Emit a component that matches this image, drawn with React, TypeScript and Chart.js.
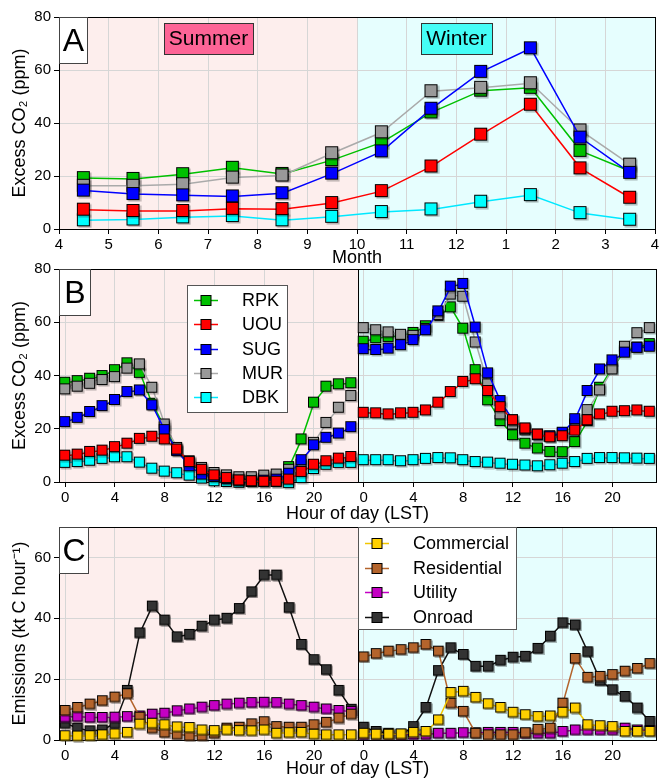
import React, { useEffect, useRef } from 'react';
import { Chart, registerables } from 'chart.js';

Chart.register(...registerables);

const FONT = "'Liberation Sans', Arial, Helvetica, sans-serif";

// ---------------- DATA ----------------
const monthPositions = [4.5, 5.5, 6.5, 7.5, 8.5, 9.5, 10.5, 11.5, 12.5, 13.5, 14.5, 15.5];
const monthTickValues = [4, 5, 6, 7, 8, 9, 10, 11, 12, 13, 14, 15, 16];
const monthTickLabels = ['4', '5', '6', '7', '8', '9', '10', '11', '12', '1', '2', '3', '4'];

const rpkMonthly = [19.2, 18.9, 20.7, 23.1, 20.8, 26.0, 32.7, 44.0, 52.2, 53.3, 29.5, 21.8];
const uouMonthly = [7.3, 6.8, 6.8, 7.6, 7.5, 9.8, 14.3, 23.6, 35.6, 46.9, 22.9, 11.8];
const sugMonthly = [14.5, 13.2, 12.7, 12.3, 13.5, 20.9, 29.3, 45.4, 59.3, 68.2, 34.5, 21.2];
const murMonthly = [16.3, 16.3, 16.9, 19.4, 20.2, 28.6, 36.5, 52.0, 53.3, 55.0, 37.2, 24.3];
const dbkMonthly = [3.3, 3.6, 4.4, 4.9, 3.3, 4.6, 6.4, 7.4, 10.3, 12.8, 6.0, 3.5];

const hours = [0, 1, 2, 3, 4, 5, 6, 7, 8, 9, 10, 11, 12, 13, 14, 15, 16, 17, 18, 19, 20, 21, 22, 23];
const hourTickValues = [0, 4, 8, 12, 16, 20];
const hourTickLabels = ['0', '4', '8', '12', '16', '20'];
const co2TickValues = [0, 20, 40, 60, 80];
const emissionTickValues = [0, 20, 40, 60];

const rpkSummer = [37.3, 37.9, 38.8, 39.8, 42.0, 44.6, 41.0, 29.4, 20.5, 12.0, 7.0, 4.0, 2.2, 1.3, 0.8, 0.8, 1.2, 1.8, 5.6, 16.0, 29.8, 35.8, 36.7, 37.1];
const uouSummer = [9.9, 10.3, 11.3, 11.8, 13.1, 14.4, 16.2, 17.0, 16.0, 12.2, 7.5, 4.6, 2.5, 1.5, 0.6, 0.3, 0.1, 0.1, 0.9, 3.8, 6.5, 7.8, 8.8, 9.4];
const sugSummer = [22.5, 24.1, 26.3, 28.5, 30.8, 33.8, 34.4, 28.8, 19.5, 11.6, 5.9, 2.8, 1.9, 1.1, 0.5, 0.2, 0.5, 0.9, 3.1, 8.2, 13.8, 16.6, 18.2, 20.6];
const murSummer = [34.8, 35.8, 36.9, 38.3, 39.4, 42.6, 44.2, 35.4, 21.6, 12.8, 7.8, 5.3, 3.4, 2.5, 1.8, 1.8, 2.4, 2.8, 4.6, 6.5, 14.7, 22.2, 27.9, 32.3];
const dbkSummer = [7.2, 7.5, 8.0, 8.7, 9.3, 9.3, 7.3, 5.0, 3.9, 3.3, 2.4, 1.3, 0.3, 0.0, -0.3, 0.0, 0.0, 0.0, -0.4, 1.5, 4.9, 6.5, 7.2, 7.2];

const rpkWinter = [52.7, 54.0, 54.5, 54.9, 56.0, 58.5, 62.4, 65.6, 57.6, 42.0, 30.7, 22.9, 17.6, 14.4, 12.6, 11.3, 11.2, 15.0, 22.9, 35.4, 43.0, 49.2, 50.5, 51.8];
const uouWinter = [26.0, 25.8, 25.4, 25.8, 26.0, 26.9, 29.8, 33.8, 37.6, 38.6, 34.2, 28.1, 23.2, 20.1, 17.8, 16.8, 17.2, 19.3, 23.2, 25.4, 26.4, 26.6, 26.9, 26.4];
const sugWinter = [49.9, 49.6, 50.1, 51.4, 53.3, 57.0, 64.1, 73.4, 74.4, 58.0, 40.8, 30.4, 23.2, 20.0, 17.6, 17.2, 18.5, 23.6, 34.2, 42.3, 45.7, 48.6, 50.4, 50.8];
const murWinter = [57.8, 57.0, 56.2, 55.3, 54.9, 57.5, 62.7, 70.4, 69.6, 52.4, 36.7, 25.4, 21.6, 19.4, 17.8, 17.0, 18.2, 21.6, 27.0, 34.4, 42.3, 50.8, 55.9, 57.8];
const dbkWinter = [8.2, 8.2, 8.2, 7.8, 8.2, 8.7, 9.0, 8.9, 8.2, 7.5, 7.3, 6.9, 6.5, 6.2, 5.9, 6.3, 6.9, 7.5, 8.7, 9.0, 9.0, 8.9, 8.8, 8.7];

const commercialSummer = [1.4, 1.3, 1.4, 1.7, 2.0, 2.5, 5.2, 5.5, 5.0, 4.3, 4.1, 3.3, 3.1, 3.3, 3.1, 3.0, 3.3, 2.2, 2.4, 2.5, 1.9, 1.7, 1.7, 1.7];
const residentialSummer = [9.7, 10.7, 11.8, 12.9, 14.1, 15.2, 7.5, 3.9, 2.5, 1.9, 1.4, 1.4, 2.2, 3.9, 4.2, 5.3, 6.0, 4.4, 4.2, 4.2, 5.0, 5.8, 7.2, 8.5];
const utilitySummer = [7.5, 7.7, 7.4, 7.4, 7.5, 7.7, 7.9, 8.5, 8.8, 9.6, 10.2, 10.8, 11.3, 11.8, 12.1, 12.3, 12.4, 12.3, 11.8, 11.3, 10.8, 10.2, 9.7, 9.4];
const onroadSummer = [5.5, 3.9, 3.0, 3.3, 5.5, 16.3, 35.2, 44.0, 39.4, 33.9, 34.7, 37.4, 39.4, 40.0, 43.2, 48.7, 54.2, 54.2, 43.5, 31.4, 26.4, 23.1, 16.3, 10.1];

const commercialWinter = [2.2, 1.9, 1.9, 2.0, 2.5, 2.8, 6.6, 15.6, 16.0, 14.0, 11.9, 10.7, 9.1, 8.3, 7.7, 7.9, 9.1, 10.5, 5.0, 4.7, 4.4, 2.8, 2.8, 2.8];
const residentialWinter = [27.3, 28.4, 29.2, 29.7, 30.3, 31.4, 29.2, 12.1, 9.4, 2.2, 1.7, 1.7, 1.7, 2.4, 3.5, 3.9, 12.1, 26.8, 20.6, 20.9, 21.5, 22.6, 23.5, 25.1];
const utilityWinter = [1.8, 1.8, 1.8, 1.8, 1.8, 1.8, 2.2, 2.2, 2.4, 2.4, 2.5, 2.5, 2.5, 2.2, 2.2, 2.2, 2.8, 3.3, 3.3, 3.3, 3.3, 3.9, 3.3, 3.1];
const onroadWinter = [4.2, 2.8, 2.2, 1.9, 4.4, 10.7, 22.8, 30.3, 28.1, 24.2, 24.2, 26.2, 27.2, 27.5, 30.1, 34.1, 38.5, 37.8, 29.0, 19.5, 16.5, 14.3, 10.5, 6.1];

const siteNames = ['RPK', 'UOU', 'SUG', 'MUR', 'DBK'];
const sectorNames = ['Commercial', 'Residential', 'Utility', 'Onroad'];

// ---------------- STYLES ----------------
const PINK_BG = '#fdeeed';
const CYAN_BG = '#e6fefe';
const GRID = '#d6d6d6';

const siteStyle: Record<string, { fill: string; line: string; order: number }> = {
  RPK: { fill: '#00c000', line: '#00c000', order: 4 },
  UOU: { fill: '#ff0000', line: '#ff0000', order: 1 },
  SUG: { fill: '#0000ff', line: '#0000ff', order: 2 },
  MUR: { fill: '#999999', line: '#aaaaaa', order: 3 },
  DBK: { fill: '#00ffff', line: '#00e8ff', order: 5 },
};
const sectorStyle: Record<string, { fill: string; line: string; order: number }> = {
  Commercial: { fill: '#ffd000', line: '#f2c600', order: 1 },
  Residential: { fill: '#b4642c', line: '#b4642c', order: 2 },
  Utility: { fill: '#c400c4', line: '#c400c4', order: 3 },
  Onroad: { fill: '#333333', line: '#111111', order: 4 },
};

// Square marker with a soft drop shadow, rendered once per colour/size.
const markerCache: Record<string, HTMLCanvasElement> = {};
function squareMarker(fill: string, side: number): HTMLCanvasElement {
  const key = fill + '|' + side;
  if (markerCache[key]) return markerCache[key];
  const c = document.createElement('canvas');
  const size = side + 3;
  c.width = size;
  c.height = size;
  const ctx = c.getContext('2d') as CanvasRenderingContext2D;
  ctx.fillStyle = 'rgba(0,0,0,0.28)';
  ctx.fillRect(2.5, 2.5, side, side);
  ctx.fillStyle = fill;
  ctx.fillRect(1, 1, side, side);
  ctx.strokeStyle = '#000';
  ctx.lineWidth = 1;
  ctx.strokeRect(1.5, 1.5, side - 1, side - 1);
  markerCache[key] = c;
  return c;
}

function makeDataset(label: string, xs: number[], ys: number[], st: any, side: number) {
  return {
    label,
    data: xs.map((x, i) => ({ x, y: ys[i] })),
    borderColor: st.line,
    backgroundColor: st.fill,
    pointStyle: squareMarker(st.fill, side),
    pointRadius: side / 2,
    pointHoverRadius: side / 2,
    borderWidth: 1.5,
    order: st.order,
    clip: false,
    tension: 0,
  };
}

function hoursShift(offset: number) {
  return hours.map((h) => h + offset);
}

function drawLabelBox(ctx: any, a: any, text: string, w: number, h: number) {
  ctx.save();
  ctx.fillStyle = '#ffffff';
  ctx.fillRect(a.left, a.top, w, h);
  ctx.strokeStyle = '#444444';
  ctx.lineWidth = 1;
  ctx.strokeRect(a.left + 0.5, a.top + 0.5, w, h);
  ctx.fillStyle = '#000';
  ctx.font = `32px ${FONT}`;
  ctx.textAlign = 'center';
  ctx.textBaseline = 'middle';
  ctx.fillText(text, a.left + w / 2 + 0.5, a.top + h / 2 + 2);
  ctx.restore();
}

function drawTag(ctx: any, cx: number, top: number, text: string, fill: string) {
  ctx.save();
  ctx.font = `21px ${FONT}`;
  const tw = ctx.measureText(text).width;
  const w = Math.round(tw + 10);
  const h = 31;
  const x = Math.round(cx - w / 2);
  ctx.fillStyle = fill;
  ctx.fillRect(x, top, w, h);
  ctx.strokeStyle = '#333';
  ctx.lineWidth = 1;
  ctx.strokeRect(x + 0.5, top + 0.5, w, h);
  ctx.fillStyle = '#000';
  ctx.textAlign = 'center';
  ctx.textBaseline = 'middle';
  ctx.fillText(text, x + w / 2, top + h / 2 + 1);
  ctx.restore();
}

function drawLegend(ctx: any, x: number, y: number, w: number, h: number, names: string[], styles: any, rowStart: number, rowGap: number) {
  ctx.save();
  ctx.fillStyle = '#ffffff';
  ctx.fillRect(x, y, w, h);
  ctx.strokeStyle = '#555555';
  ctx.lineWidth = 1;
  ctx.strokeRect(x + 0.5, y + 0.5, w, h);
  ctx.font = `18px ${FONT}`;
  ctx.textBaseline = 'middle';
  ctx.textAlign = 'left';
  names.forEach((n, i) => {
    const st = styles[n];
    const cy = Math.round(y + rowStart + i * rowGap) + 0.5;
    ctx.strokeStyle = st.line;
    ctx.lineWidth = 1.5;
    ctx.beginPath();
    ctx.moveTo(x + 7, cy);
    ctx.lineTo(x + 31, cy);
    ctx.stroke();
    ctx.fillStyle = st.fill;
    ctx.fillRect(x + 14, cy - 5, 10, 10);
    ctx.strokeStyle = '#000';
    ctx.lineWidth = 1;
    ctx.strokeRect(x + 14, cy - 5, 10, 10);
    ctx.fillStyle = '#000';
    ctx.fillText(n, x + 55, cy + 1);
  });
  ctx.restore();
}

function decorPlugin(cfg: { split: number; divider: boolean; label: string; labelW: number; after?: (chart: any) => void }) {
  return {
    id: 'decor',
    beforeDraw(chart: any) {
      const { ctx, chartArea: a, scales } = chart;
      const xs = Math.round(scales.x.getPixelForValue(cfg.split));
      ctx.save();
      ctx.fillStyle = PINK_BG;
      ctx.fillRect(a.left, a.top, xs - a.left, a.bottom - a.top);
      ctx.fillStyle = CYAN_BG;
      ctx.fillRect(xs, a.top, a.right - xs, a.bottom - a.top);
      ctx.restore();
    },
    beforeDatasetsDraw(chart: any) {
      const { ctx, chartArea: a, scales } = chart;
      ctx.save();
      ctx.strokeStyle = '#000';
      ctx.lineWidth = 1;
      if (cfg.divider) {
        const xs = Math.round(scales.x.getPixelForValue(cfg.split)) + 0.5;
        ctx.beginPath();
        ctx.moveTo(xs, a.top);
        ctx.lineTo(xs, a.bottom);
        ctx.stroke();
      }
      ctx.strokeRect(Math.round(a.left) + 0.5, Math.round(a.top) + 0.5, Math.round(a.right - a.left), Math.round(a.bottom - a.top));
      ctx.restore();
    },
    afterDraw(chart: any) {
      const { ctx, chartArea: a } = chart;
      drawLabelBox(ctx, a, cfg.label, cfg.labelW, 46);
      if (cfg.after) cfg.after(chart);
    },
  };
}

function axisFont(size: number) {
  return { family: FONT, size };
}

function makeOptions(p: {
  xMin: number; xMax: number; xTicks: number[]; xLabel: (v: number) => string; xTitle: string; xHeight: number;
  yMax: number; yTicks: number[]; yTitle: string; padTop: number;
}) {
  return {
    responsive: false,
    animation: false,
    layout: { padding: { top: p.padTop, right: 6, left: 0, bottom: 0 } },
    plugins: { legend: { display: false }, tooltip: { enabled: false } },
    events: [],
    scales: {
      x: {
        type: 'linear',
        min: p.xMin,
        max: p.xMax,
        afterBuildTicks: (s: any) => { s.ticks = p.xTicks.map((v) => ({ value: v })); },
        afterFit: (s: any) => { s.height = p.xHeight; },
        ticks: { color: '#000', font: axisFont(15), padding: 2, autoSkip: false, maxRotation: 0, callback: (v: any) => p.xLabel(Number(v)) },
        grid: { color: GRID, tickColor: '#000', tickLength: 5, lineWidth: 1 },
        border: { display: true, color: '#000' },
        title: { display: true, text: p.xTitle, color: '#000', font: axisFont(18), padding: { top: 0, bottom: 1 } },
      },
      y: {
        type: 'linear',
        min: 0,
        max: p.yMax,
        afterBuildTicks: (s: any) => { s.ticks = p.yTicks.map((v) => ({ value: v })); },
        afterFit: (s: any) => { s.width = 59; },
        ticks: { color: '#000', font: axisFont(15), padding: 3 },
        grid: { color: GRID, tickColor: '#000', tickLength: 5, lineWidth: 1 },
        border: { display: true, color: '#000' },
        title: { display: true, text: p.yTitle, color: '#000', font: axisFont(18), padding: { top: 9, bottom: 0 } },
      },
    },
  };
}

const hourLabel = (v: number) => {
  const h = v % 24;
  const idx = hourTickValues.indexOf(h);
  return idx >= 0 ? hourTickLabels[idx] : '';
};
const hourTicksBoth = [...hourTickValues, ...hourTickValues.map((h) => h + 24)];

function configA(): any {
  const series: Record<string, number[]> = { RPK: rpkMonthly, UOU: uouMonthly, SUG: sugMonthly, MUR: murMonthly, DBK: dbkMonthly };
  return {
    type: 'line',
    data: { datasets: siteNames.map((n) => makeDataset(n, monthPositions, series[n], siteStyle[n], 13)) },
    options: makeOptions({
      xMin: 4, xMax: 16, xTicks: monthTickValues,
      xLabel: (v) => monthTickLabels[monthTickValues.indexOf(v)] ?? '',
      xTitle: 'Month', xHeight: 41,
      yMax: 80, yTicks: co2TickValues, yTitle: 'Excess CO\u2082 (ppm)', padTop: 17,
    }),
    plugins: [decorPlugin({
      split: 10, divider: false, label: 'A', labelW: 28,
      after: (chart: any) => {
        const { ctx, chartArea: a, scales } = chart;
        drawTag(ctx, scales.x.getPixelForValue(7), a.top + 6, 'Summer', '#fd6496');
        drawTag(ctx, scales.x.getPixelForValue(12), a.top + 6, 'Winter', '#45fdf6');
      },
    })],
  };
}

function configB(): any {
  const summer: Record<string, number[]> = { RPK: rpkSummer, UOU: uouSummer, SUG: sugSummer, MUR: murSummer, DBK: dbkSummer };
  const winter: Record<string, number[]> = { RPK: rpkWinter, UOU: uouWinter, SUG: sugWinter, MUR: murWinter, DBK: dbkWinter };
  const datasets: any[] = [];
  siteNames.forEach((n) => {
    datasets.push(makeDataset(n, hoursShift(0), summer[n], siteStyle[n], 11));
    datasets.push(makeDataset(n, hoursShift(24), winter[n], siteStyle[n], 11));
  });
  return {
    type: 'line',
    data: { datasets },
    options: makeOptions({
      xMin: -0.5, xMax: 47.5, xTicks: hourTicksBoth, xLabel: hourLabel,
      xTitle: 'Hour of day (LST)', xHeight: 44,
      yMax: 80, yTicks: co2TickValues, yTitle: 'Excess CO\u2082 (ppm)', padTop: 13,
    }),
    plugins: [decorPlugin({
      split: 23.5, divider: true, label: 'B', labelW: 31,
      after: (chart: any) => {
        const { ctx, chartArea: a } = chart;
        drawLegend(ctx, a.left + 128, a.top + 16, 100, 127, siteNames, siteStyle, 15, 24.3);
      },
    })],
  };
}

function configC(): any {
  const summer: Record<string, number[]> = { Commercial: commercialSummer, Residential: residentialSummer, Utility: utilitySummer, Onroad: onroadSummer };
  const winter: Record<string, number[]> = { Commercial: commercialWinter, Residential: residentialWinter, Utility: utilityWinter, Onroad: onroadWinter };
  const datasets: any[] = [];
  sectorNames.forEach((n) => {
    datasets.push(makeDataset(n, hoursShift(0), summer[n], sectorStyle[n], 10.5));
    datasets.push(makeDataset(n, hoursShift(24), winter[n], sectorStyle[n], 10.5));
  });
  return {
    type: 'line',
    data: { datasets },
    options: makeOptions({
      xMin: -0.5, xMax: 47.5, xTicks: hourTicksBoth, xLabel: hourLabel,
      xTitle: 'Hour of day (LST)', xHeight: 41,
      yMax: 70, yTicks: emissionTickValues, yTitle: 'Emissions (kt C hour\u207B\u00B9)', padTop: 13,
    }),
    plugins: [decorPlugin({
      split: 23.5, divider: true, label: 'C', labelW: 29,
      after: (chart: any) => {
        const { ctx, chartArea: a, scales } = chart;
        const x0 = Math.round(scales.x.getPixelForValue(23.5));
        drawLegend(ctx, x0, a.top, 158, 102, sectorNames, sectorStyle, 16, 24.5);
      },
    })],
  };
}

export default function App() {
  const refA = useRef<HTMLCanvasElement>(null);
  const refB = useRef<HTMLCanvasElement>(null);
  const refC = useRef<HTMLCanvasElement>(null);

  useEffect(() => {
    const charts = [
      new Chart(refA.current as HTMLCanvasElement, configA()),
      new Chart(refB.current as HTMLCanvasElement, configB()),
      new Chart(refC.current as HTMLCanvasElement, configC()),
    ];
    return () => charts.forEach((c) => c.destroy());
  }, []);

  return (
    <div style={{ position: 'absolute', left: 0, top: 0, width: 663, height: 781, background: '#ffffff', overflow: 'hidden' }}>
      <canvas ref={refA} width={663} height={270} style={{ position: 'absolute', left: 0, top: 0, width: 663, height: 270 }} />
      <canvas ref={refB} width={663} height={270} style={{ position: 'absolute', left: 0, top: 256, width: 663, height: 270 }} />
      <canvas ref={refC} width={663} height={267} style={{ position: 'absolute', left: 0, top: 514, width: 663, height: 267 }} />
    </div>
  );
}
